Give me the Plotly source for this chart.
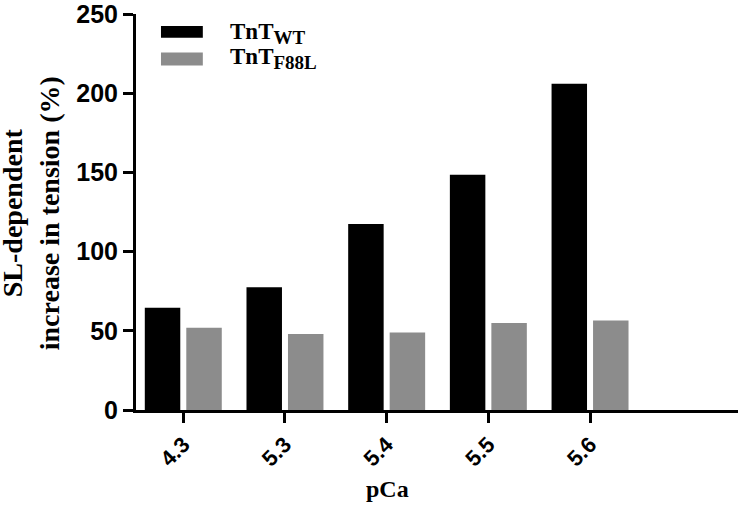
import plotly.graph_objects as go

categories = ["4.3", "5.3", "5.4", "5.5", "5.6"]
wt_values = [64.5, 77.5, 117.5, 148.5, 206.0]
f88l_values = [52.0, 48.0, 49.0, 55.0, 56.5]
series_names = ["TnT<sub>WT</sub>", "TnT<sub>F88L</sub>"]
legend_labels = ["TnT<sub><span style='font-size:19px'>WT</span></sub>",
                 "TnT<sub><span style='font-size:19px'>F88L</span></sub>"]
series_colors = ["#000000", "#8c8c8c"]
y_ticks = [0, 50, 100, 150, 200, 250]

fig = go.Figure()
fig.add_trace(go.Bar(x=categories, y=wt_values, name=series_names[0],
                     marker=dict(color=series_colors[0], line=dict(width=0)), showlegend=False))
fig.add_trace(go.Bar(x=categories, y=f88l_values, name=series_names[1],
                     marker=dict(color=series_colors[1], line=dict(width=0)), showlegend=False))

axis_font = dict(family="Liberation Sans, Arial", size=25, color="black", weight="bold")
serif = "Liberation Serif, Times New Roman"

fig.update_layout(
    width=738, height=508,
    margin=dict(l=136, r=0, t=10, b=98),
    paper_bgcolor="white", plot_bgcolor="white",
    barmode="group", bargap=0.184, bargroupgap=0.145,
    xaxis=dict(type="category", range=[-0.465, 5.455], showline=True, linewidth=3,
               linecolor="black", ticks="outside", ticklen=10, tickwidth=3, tickcolor="black",
               tickangle=-45, tickfont=dict(family="Liberation Sans, Arial", size=22,
                                            color="black", weight="bold"),
               showgrid=False, zeroline=False),
    yaxis=dict(range=[0, 250], tickvals=y_ticks, showline=True, linewidth=3,
               linecolor="black", ticks="outside", ticklen=10, tickwidth=3, tickcolor="black",
               tickfont=axis_font, showgrid=False, zeroline=False,
               ticklabeloverflow="allow"),
)

# Axis titles
fig.add_annotation(text="SL-dependent<br>increase in tension (%)", xref="paper", yref="paper",
                   x=-0.174, y=0.4975, textangle=-90, showarrow=False,
                   xanchor="center", yanchor="middle",
                   font=dict(family=serif, size=28, color="black", weight="bold"))
fig.add_annotation(text="pCa", xref="paper", yref="paper", x=0.417, y=-0.2,
                   showarrow=False, xanchor="center", yanchor="middle",
                   font=dict(family=serif, size=24, color="black", weight="bold"))

# Manual legend
legend_rows = [(0.97, 0.94, 0.95), (0.9025, 0.87, 0.8875)]
for (y1, y0, ty), label, color in zip(legend_rows, legend_labels, series_colors):
    fig.add_shape(type="rect", xref="paper", yref="paper", x0=0.0415, x1=0.111,
                  y0=y0, y1=y1, fillcolor=color, line=dict(width=0))
    fig.add_annotation(text=label, xref="paper", yref="paper", x=0.1528, y=ty,
                       showarrow=False, xanchor="left", yanchor="middle",
                       font=dict(family=serif, size=23, color="black", weight="bold"))

fig.write_html("out.html", config={"displayModeBar": False},
               post_script="document.body.style.margin='0';")
